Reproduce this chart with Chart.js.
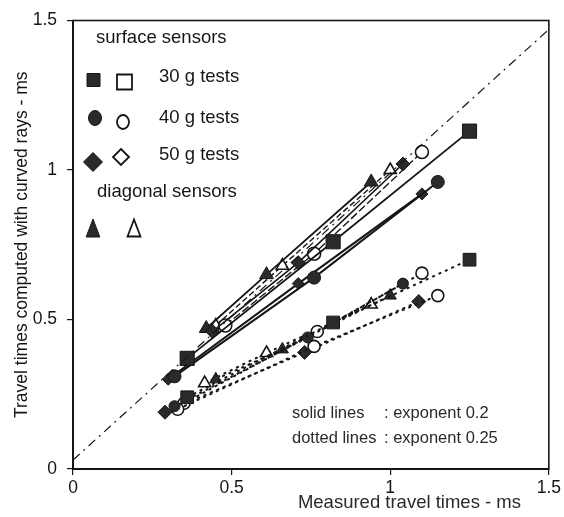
<!DOCTYPE html>
<html>
<head>
<meta charset="utf-8">
<script src="https://cdn.jsdelivr.net/npm/chart.js@4.4.1/dist/chart.umd.min.js"></script>
<style>
  html, body { margin: 0; padding: 0; background: #fff; }
  #wrap { width: 564px; height: 517px; }
</style>
</head>
<body>
<div id="wrap"><canvas id="travelChart"></canvas></div>
<script>
// x = measured travel time (ms), y = computed travel time with curved rays (ms)

// solid lines : exponent 0.2
const sq30SolidX = [0.36, 0.82, 1.25];
const sq30SolidY = [0.37, 0.76, 1.13];
const ci40SolidX = [0.32, 0.76, 1.15];
const ci40SolidY = [0.31, 0.64, 0.96];
const di50SolidX = [0.30, 0.71, 1.10];
const di50SolidY = [0.30, 0.62, 0.92];
const di50bSolidX = [0.44, 0.71, 1.04];
const di50bSolidY = [0.46, 0.69, 1.02];
const ci40OpenSolidX = [0.48, 0.76, 1.10];
const ci40OpenSolidY = [0.48, 0.72, 1.06];
const triSolidX = [0.42, 0.61, 0.94];
const triSolidY = [0.47, 0.65, 0.96];
const triOpenSolidX = [0.45, 0.66, 1.00];
const triOpenSolidY = [0.48, 0.68, 1.00];

// dotted lines : exponent 0.25
const sq30DotX = [0.36, 0.82, 1.25];
const sq30DotY = [0.24, 0.49, 0.70];
const ci40DotX = [0.32, 0.74, 1.04];
const ci40DotY = [0.21, 0.44, 0.62];
const ci40OpenDotX = [0.33, 0.76, 1.15];
const ci40OpenDotY = [0.20, 0.41, 0.58];
const ci40OpenDot2X = [0.35, 0.77, 1.10];
const ci40OpenDot2Y = [0.22, 0.46, 0.655];
const di50DotX = [0.29, 0.73, 1.09];
const di50DotY = [0.19, 0.39, 0.56];
const triDotX = [0.45, 0.66, 1.00];
const triDotY = [0.30, 0.40, 0.58];
const triOpenDotX = [0.415, 0.61, 0.94];
const triOpenDotY = [0.287, 0.388, 0.55];

// reference line (dash-dot)
const refLineX = [0, 1.5];
const refLineY = [0.03, 1.47];

const xTicks = [0, 0.5, 1, 1.5];
const yTicks = [0, 0.5, 1, 1.5];

const INK = '#161616';
const FILL = '#2a2a2a';
const FONT = '"Liberation Sans", Arial, sans-serif';

function pts(xs, ys) {
  return xs.map((x, i) => ({ x: x, y: ys[i] }));
}

function series(xs, ys, shape, filled, radius, dash, width) {
  return {
    data: pts(xs, ys),
    showLine: true,
    borderColor: INK,
    borderWidth: width,
    borderDash: dash,
    pointStyle: shape,
    pointRadius: radius,
    pointBackgroundColor: filled ? FILL : '#fff',
    pointBorderColor: INK,
    pointBorderWidth: filled ? 1 : 1.6
  };
}

const SOLID = [];
const DOTS = [3, 4];

const datasets = [
  {
    data: pts(refLineX, refLineY),
    showLine: true,
    borderColor: INK,
    borderWidth: 1.2,
    borderDash: [9, 5, 2, 5],
    pointRadius: 0
  },
  // dotted group
  series(sq30DotX, sq30DotY, 'rect', true, 9, DOTS, 2),
  series(ci40DotX, ci40DotY, 'circle', true, 5.5, DOTS, 2),
  series(ci40OpenDotX, ci40OpenDotY, 'circle', false, 6, DOTS, 2),
  series(ci40OpenDot2X, ci40OpenDot2Y, 'circle', false, 6, DOTS, 2),
  series(di50DotX, di50DotY, 'rectRot', true, 7, DOTS, 2),
  series(triDotX, triDotY, 'triangle', true, 7, DOTS, 2),
  series(triOpenDotX, triOpenDotY, 'triangle', false, 7, DOTS, 2),
  // solid group
  series(sq30SolidX, sq30SolidY, 'rect', true, 10, SOLID, 1.8),
  series(ci40SolidX, ci40SolidY, 'circle', true, 6.5, SOLID, 2),
  series(di50SolidX, di50SolidY, 'rectRot', true, 6, SOLID, 2),
  series(di50bSolidX, di50bSolidY, 'rectRot', true, 7, SOLID, 1.6),
  series(ci40OpenSolidX, ci40OpenSolidY, 'circle', false, 6.5, [8, 3], 1.4),
  series(triSolidX, triSolidY, 'triangle', true, 8, SOLID, 1.8),
  series(triOpenSolidX, triOpenSolidY, 'triangle', false, 7, [6, 3], 1.4)
];

// legend glyphs
function glyph(ctx, shape, x, y, s, filled) {
  ctx.beginPath();
  if (shape === 'square') {
    ctx.rect(x - s / 2, y - s / 2, s, s);
  } else if (shape === 'circle') {
    ctx.ellipse(x, y, s / 2, s / 2 + 1, 0, 0, Math.PI * 2);
  } else if (shape === 'diamond') {
    ctx.moveTo(x, y - s / 2); ctx.lineTo(x + s / 2, y);
    ctx.lineTo(x, y + s / 2); ctx.lineTo(x - s / 2, y); ctx.closePath();
  } else {
    ctx.moveTo(x, y - s / 2); ctx.lineTo(x + s * 0.38, y + s / 2);
    ctx.lineTo(x - s * 0.38, y + s / 2); ctx.closePath();
  }
  if (filled) { ctx.fillStyle = FILL; ctx.fill(); }
  ctx.lineWidth = filled ? 1 : 1.8;
  ctx.strokeStyle = INK;
  ctx.stroke();
}

const frameAndNotes = {
  id: 'frameAndNotes',
  afterDraw(chart) {
    const { ctx, chartArea: a } = chart;
    ctx.save();
    ctx.strokeStyle = INK;
    ctx.lineWidth = 1.6;
    ctx.strokeRect(a.left, a.top, a.right - a.left, a.bottom - a.top);

    ctx.fillStyle = INK;
    ctx.font = '18.5px ' + FONT;
    ctx.textBaseline = 'middle';
    ctx.textAlign = 'left';
    ctx.fillText('surface sensors', 96, 38);
    ctx.fillText('30 g tests', 159, 77);
    ctx.fillText('40 g tests', 159, 118);
    ctx.fillText('50 g tests', 159, 155);
    ctx.fillText('diagonal sensors', 97, 192);

    glyph(ctx, 'square', 93.5, 80, 13, true);
    glyph(ctx, 'square', 124.5, 82, 15, false);
    glyph(ctx, 'circle', 95, 118, 13, true);
    glyph(ctx, 'circle', 123, 122, 12, false);
    glyph(ctx, 'diamond', 93, 162, 19, true);
    glyph(ctx, 'diamond', 121, 157, 16, false);
    glyph(ctx, 'triangle', 93, 228, 18, true);
    glyph(ctx, 'triangle', 134, 228, 17, false);

    ctx.font = '16.5px ' + FONT;
    ctx.fillText('solid lines', 292, 413);
    ctx.fillText(': exponent 0.2', 384, 413);
    ctx.fillText('dotted lines', 292, 438);
    ctx.fillText(': exponent 0.25', 384, 438);

    ctx.font = '18.5px ' + FONT;
    ctx.textAlign = 'right';
    ctx.fillText('Measured travel times - ms', 521, 503);
    ctx.restore();
  }
};

const ctx = document.getElementById('travelChart').getContext('2d');
const travelChart = new Chart(ctx, {
  type: 'scatter',
  data: { datasets: datasets },
  plugins: [frameAndNotes],
  options: {
    responsive: true,
    maintainAspectRatio: false,
    animation: false,
    layout: { padding: { top: 20, right: 13, left: 0, bottom: 0 } },
    plugins: {
      legend: { display: false },
      tooltip: { enabled: false }
    },
    scales: {
      x: {
        type: 'linear',
        min: 0,
        max: 1.5,
        afterBuildTicks: (scale) => { scale.ticks = xTicks.map(v => ({ value: v })); },
        afterFit: (scale) => { scale.height = 48; },
        grid: { drawOnChartArea: false, drawTicks: true, tickLength: 6, color: INK, lineWidth: 1.2 },
        border: { display: true, color: INK, width: 2 },
        ticks: {
          color: INK,
          padding: 3,
          maxRotation: 0,
          font: { family: FONT, size: 17.5 },
          callback: (v) => String(v)
        }
      },
      y: {
        type: 'linear',
        min: 0,
        max: 1.5,
        afterBuildTicks: (scale) => { scale.ticks = yTicks.map(v => ({ value: v })); },
        afterFit: (scale) => { scale.width = 73; },
        grid: { drawOnChartArea: false, drawTicks: true, tickLength: 6, color: INK, lineWidth: 1.2 },
        border: { display: true, color: INK, width: 2 },
        ticks: {
          color: INK,
          padding: 10,
          font: { family: FONT, size: 17.5 },
          callback: (v) => String(v)
        },
        title: {
          display: true,
          text: 'Travel times computed with curved rays - ms',
          color: INK,
          font: { family: FONT, size: 17.5 },
          padding: { top: 12, bottom: 0 }
        }
      }
    }
  }
});
</script>
</body>
</html>
